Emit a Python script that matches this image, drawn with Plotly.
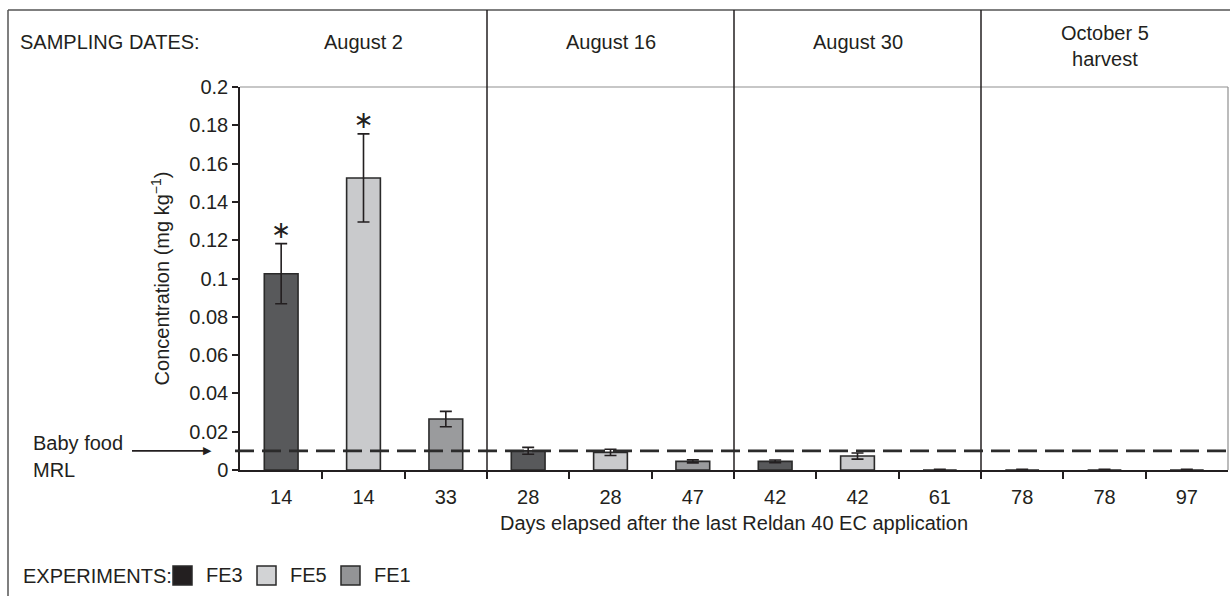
import plotly.graph_objects as go

# ---------------- data ----------------
days = ["14", "14", "33", "28", "28", "47", "42", "42", "61", "78", "78", "97"]
experiments = ["FE3", "FE5", "FE1"] * 4
values = [0.1025, 0.1525, 0.0266, 0.0100, 0.0092, 0.0045,
          0.0045, 0.0073, 0.0, 0.0, 0.0, 0.0]
errors = [0.0157, 0.0230, 0.0040, 0.0018, 0.0016, 0.0008,
          0.0007, 0.0016, 0.0004, 0.0004, 0.0004, 0.0004]
significant = [True, True, False, False, False, False,
               False, False, False, False, False, False]
sampling_dates = ["August 2", "August 16", "August 30", "October 5<br>harvest"]
series_names = ["FE3", "FE5", "FE1"]
series_colors = {"FE3": "#58595b", "FE5": "#c9cacc", "FE1": "#9a9b9d"}
legend_colors = {"FE3": "#231f20", "FE5": "#d2d3d5", "FE1": "#939496"}
mrl = 0.01

# ---------------- layout geometry ----------------
W, H = 1230, 596
L, R, T, B = 240, 1228, 87, 470
PW, PH = R - L, B - T
INK = "#231f20"
FONT = "Liberation Sans, Arial, sans-serif"


def px(xp):
    return (xp - L) / PW


def py(yp):
    return (B - yp) / PH


fig = go.Figure()

for name in series_names:
    idx = [i for i, e in enumerate(experiments) if e == name]
    fig.add_trace(go.Bar(
        x=idx,
        y=[values[i] for i in idx],
        error_y=dict(type="data", array=[errors[i] for i in idx], visible=True,
                     color=INK, thickness=1.6, width=6),
        marker=dict(color=series_colors[name], line=dict(color="#2a2a2a", width=1.6)),
        width=0.41,
        name=name,
        showlegend=False,
    ))

# significance asterisks
sig_idx = [i for i, s in enumerate(significant) if s]
fig.add_trace(go.Scatter(
    x=sig_idx,
    y=[values[i] + errors[i] for i in sig_idx],
    mode="text",
    text=["\u2217"] * len(sig_idx),
    textposition="top center",
    textfont=dict(size=24, color=INK, family="DejaVu Sans, sans-serif"),
    showlegend=False,
    hoverinfo="skip",
))

shapes = []
# outer frame (left and top)
shapes.append(dict(type="line", xref="paper", yref="paper", x0=px(8), x1=px(8),
                   y0=py(10), y1=py(600), line=dict(color="#555555", width=1.5)))
shapes.append(dict(type="line", xref="paper", yref="paper", x0=px(8), x1=px(1232),
                   y0=py(10), y1=py(10), line=dict(color="#555555", width=1.5)))
# plot area grey top and right border
shapes.append(dict(type="line", xref="paper", yref="paper", x0=0, x1=1, y0=1, y1=1,
                   line=dict(color="#8f8f8f", width=1.2)))
shapes.append(dict(type="line", xref="paper", yref="paper", x0=1, x1=1, y0=0, y1=1,
                   line=dict(color="#8f8f8f", width=1.2)))
# dividers between sampling dates
for k in range(1, len(sampling_dates)):
    xb = 3 * k - 0.5
    shapes.append(dict(type="line", xref="x", yref="paper", x0=xb, x1=xb,
                       y0=py(478), y1=py(10), line=dict(color=INK, width=1.5)))
# MRL dashed line
shapes.append(dict(type="line", xref="paper", yref="y", x0=px(235), x1=px(1232),
                   y0=mrl, y1=mrl, line=dict(color="#2b2b2b", width=2.6, dash="19px,8px"),
                   layer="above"))
# Baby food MRL arrow shaft
shapes.append(dict(type="line", xref="paper", yref="y", x0=px(132), x1=px(206),
                   y0=mrl, y1=mrl, line=dict(color=INK, width=1.8)))

annotations = []
annotations.append(dict(text="SAMPLING DATES:", xref="paper", yref="paper", x=px(18), y=py(42),
                        xanchor="left", yanchor="middle", showarrow=False,
                        font=dict(size=20, color=INK, family=FONT)))
for k, lab in enumerate(sampling_dates):
    annotations.append(dict(text=lab, xref="x", yref="paper", x=3 * k + 1, y=py(46 if "<br>" in lab else 42),
                            xanchor="center", yanchor="middle", showarrow=False,
                            font=dict(size=20, color=INK, family=FONT)))
# Baby food MRL label with arrow head
annotations.append(dict(text="Baby food", xref="paper", yref="paper", x=px(31), y=py(443),
                        xanchor="left", yanchor="middle", showarrow=False,
                        font=dict(size=20, color=INK, family=FONT)))
annotations.append(dict(text="MRL", xref="paper", yref="paper", x=px(31), y=py(470),
                        xanchor="left", yanchor="middle", showarrow=False,
                        font=dict(size=20, color=INK, family=FONT)))
annotations.append(dict(text="\u25B6", xref="paper", yref="y", x=px(214), y=mrl,
                        xanchor="right", yanchor="middle", showarrow=False,
                        font=dict(size=11, color=INK, family="DejaVu Sans, sans-serif")))

# custom legend
annotations.append(dict(text="EXPERIMENTS:", xref="paper", yref="paper", x=px(21), y=py(576),
                        xanchor="left", yanchor="middle", showarrow=False,
                        font=dict(size=20, color=INK, family=FONT)))
for k, name in enumerate(series_names):
    x0 = 173 + k * 84
    shapes.append(dict(type="rect", xref="paper", yref="paper", x0=px(x0), x1=px(x0 + 19),
                       y0=py(585), y1=py(566), fillcolor=legend_colors[name],
                       line=dict(color="#2a2a2a", width=1.5)))
    annotations.append(dict(text=name, xref="paper", yref="paper", x=px(x0 + 31), y=py(575),
                            xanchor="left", yanchor="middle", showarrow=False,
                            font=dict(size=20, color=INK, family=FONT)))

fig.update_layout(
    width=W, height=H,
    margin=dict(l=L, r=W - R, t=T, b=H - B, pad=0),
    paper_bgcolor="white", plot_bgcolor="white",
    font=dict(family=FONT, size=20, color=INK),
    showlegend=False,
    barmode="overlay",
    shapes=shapes,
    annotations=annotations,
    xaxis=dict(
        range=[-0.5, 11.5],
        tickmode="array", tickvals=list(range(len(days))), ticktext=days,
        ticks="", showgrid=False, zeroline=False,
        showline=True, linecolor=INK, linewidth=1.5,
        tickfont=dict(size=20, color=INK, family=FONT),
        ticklabelstandoff=8,
        minor=dict(tickmode="array", tickvals=[i + 0.5 for i in range(len(days) - 1)],
                   ticks="outside", ticklen=7, tickwidth=1.5, tickcolor=INK),
        title=dict(text="Days elapsed after the last Reldan 40 EC application",
                   font=dict(size=20, color=INK, family=FONT), standoff=9),
    ),
    yaxis=dict(
        range=[0, 0.2], dtick=0.02, tick0=0,
        ticks="outside", ticklen=6, tickwidth=1.5, tickcolor=INK,
        showgrid=False, zeroline=False,
        showline=True, linecolor=INK, linewidth=1.5,
        tickfont=dict(size=20, color=INK, family=FONT),
        title=dict(text="Concentration (mg kg<sup>\u22121</sup>)",
                   font=dict(size=20, color=INK, family=FONT), standoff=14),
    ),
)

fig.write_html("out.html")
